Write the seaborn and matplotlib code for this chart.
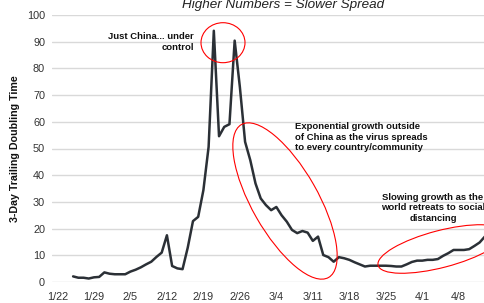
import pandas as pd
import numpy as np
import seaborn as sns
import matplotlib.pyplot as plt
import matplotlib.dates as mdates
from matplotlib.patches import Ellipse

# --- data (daily, starting 1/25) ---
start_date = "2020-01-25"
doubling_time = [
    2.1, 1.6, 1.6, 1.3, 1.75, 1.9, 3.6, 3.1, 2.9, 2.9,
    2.9, 3.9, 4.6, 5.5, 6.6, 7.6, 9.4, 11.0, 17.5, 6.0,
    5.1, 4.8, 12.9, 22.8, 24.4, 34.4, 50.6, 94.1, 54.6, 58.1,
    59.1, 90.4, 73.0, 52.5, 45.6, 36.9, 31.3, 28.8, 26.9, 28.1,
    25.0, 22.6, 19.5, 18.3, 19.1, 18.5, 15.4, 17.0, 10.1, 9.3,
    7.6, 9.3, 8.9, 8.3, 7.4, 6.6, 5.8, 6.1, 6.1, 6.1,
    6.1, 6.0, 5.8, 5.8, 6.6, 7.5, 8.0, 8.0, 8.3, 8.3,
    8.6, 9.8, 10.8, 12.0, 12.0, 12.0, 12.3, 13.5, 14.8, 17.0,
]
tick_start = "2020-01-22"
tick_end = "2020-04-08"

title = "Higher Numbers = Slower Spread"
y_label = "3-Day Trailing Doubling Time"
note_china = "Just China... under\ncontrol"
note_growth = "Exponential growth outside\nof China as the virus spreads\nto every country/community"
note_slowing = "Slowing growth as the\nworld retreats to social\ndistancing"

df = pd.DataFrame({
    "Date": pd.date_range(start_date, periods=len(doubling_time), freq="D"),
    "Doubling": doubling_time,
})

W, H = 484, 303
sns.set_theme(style="whitegrid")
plt.rcParams["font.family"] = ["Liberation Sans", "DejaVu Sans"]

fig = plt.figure(figsize=(W / 100, H / 100), dpi=100)
# axes run past the right edge, the reference is a crop
ax = fig.add_axes([52 / W, (H - 282) / H, (514 - 52) / W, (282 - 15) / H])

sns.lineplot(data=df, x="Date", y="Doubling", ax=ax, color="#2b3036", linewidth=1.8)

base = pd.Timestamp(tick_start)
ax.set_xlim(base - pd.Timedelta(days=1.05), base + pd.Timedelta(days=87.6))
ax.set_ylim(0, 100)
ax.set_yticks(range(0, 101, 10))
ax.set_xticks(pd.date_range(tick_start, tick_end, freq="7D"))
ax.xaxis.set_major_formatter(mdates.DateFormatter("%-m/%-d"))

ax.grid(axis="y", color="#d9d9d9", linewidth=1.0)
ax.grid(axis="x", visible=False)
for s in ax.spines.values():
    s.set_visible(False)
ax.tick_params(axis="both", length=0, labelsize=7.8, colors="#333333")
ax.tick_params(axis="x", pad=7)
ax.tick_params(axis="y", pad=5)

ax.set_xlabel("")
ax.set_ylabel(y_label, fontsize=7.7, fontweight="bold", color="#111111", labelpad=5)
ax.set_title(title, fontsize=9.7, style="italic", color="#222222", pad=5)


def px(x, y):
    # figure fraction from top-left pixel coords
    return x / W, 1 - y / H


fig.text(*px(194, 32), note_china, ha="right", va="top", fontsize=6.8,
         fontweight="bold", color="#111111", linespacing=1.25)
fig.text(*px(295, 122), note_growth, ha="left", va="top", fontsize=6.8,
         fontweight="bold", color="#111111", linespacing=1.25)
fig.text(*px(433, 192.5), note_slowing, ha="center", va="top", fontsize=6.8,
         fontweight="bold", color="#111111", linespacing=1.25, multialignment="center")

# red highlight ellipses, in figure inches
for cx, cy, w, h, ang in [(223, 42.7, 44, 40, 0), (285, 201, 176, 66, -60.3), (441, 249, 130, 37, 14.6)]:
    fig.add_artist(Ellipse((cx / 100, (H - cy) / 100), w / 100, h / 100, angle=ang,
                           transform=fig.dpi_scale_trans, fill=False, edgecolor="red", linewidth=0.8))

plt.savefig("out.png", dpi=100)
